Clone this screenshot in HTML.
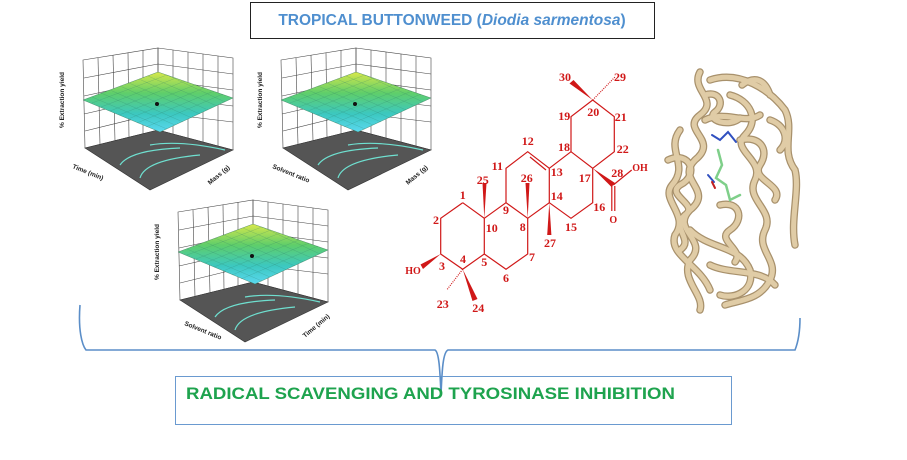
<!DOCTYPE html>
<html><head><meta charset="utf-8"><style>
html,body{margin:0;padding:0;background:#fff;width:907px;height:460px;overflow:hidden}
svg{display:block}
</style></head><body>
<svg width="907" height="460" viewBox="0 0 907 460" xmlns="http://www.w3.org/2000/svg">
<defs>
<linearGradient id="surf" x1="0" y1="0" x2="0" y2="1">
<stop offset="0" stop-color="#d8e84a"/><stop offset="0.35" stop-color="#5fce6a"/><stop offset="0.7" stop-color="#3cc8c0"/><stop offset="1" stop-color="#5ad8f0"/>
</linearGradient>
<g id="plot">
<g stroke="#444" stroke-width="0.6" fill="none">
<polygon points="83,60 158,48 158,130 85,148"/>
<polygon points="158,48 233,58 233,150 158,130"/>
<line x1="98" y1="58" x2="100" y2="145"/><line x1="113" y1="55" x2="115" y2="141"/><line x1="128" y1="53" x2="129" y2="138"/><line x1="143" y1="50" x2="143" y2="134"/>
<line x1="173" y1="50" x2="173" y2="134"/><line x1="188" y1="52" x2="188" y2="138"/><line x1="203" y1="54" x2="203" y2="142"/><line x1="218" y1="56" x2="218" y2="146"/>
<polyline points="84,78 158,64 233,74"/><polyline points="84,96 158,80 233,90"/><polyline points="84,114 158,97 233,106"/><polyline points="85,131 158,113 233,122"/>
</g>
<polygon points="85,148 158,130 233,150 150,190" fill="#555" stroke="#333" stroke-width="0.6"/>
<g stroke="#6fe0d0" stroke-width="1.2" fill="none">
<path d="M120,165 Q130,150 180,148"/><path d="M140,178 Q145,160 200,155"/><path d="M150,145 Q180,140 225,150"/>
</g>
<polygon points="83,100 158,72 233,98 160,132" fill="url(#surf)" stroke="#3a7a5a" stroke-width="0.4"/>
<g stroke="#2f7d6a" stroke-width="0.25" opacity="0.7">
<line x1="92" y1="97" x2="167" y2="129"/><line x1="101" y1="93" x2="175" y2="125"/><line x1="110" y1="90" x2="183" y2="122"/><line x1="120" y1="86" x2="192" y2="118"/><line x1="129" y1="83" x2="200" y2="114"/><line x1="139" y1="79" x2="208" y2="110"/><line x1="148" y1="76" x2="217" y2="106"/><line x1="167" y1="75" x2="225" y2="102"/>
<line x1="92" y1="103" x2="167" y2="75"/><line x1="101" y1="107" x2="176" y2="78"/><line x1="110" y1="111" x2="185" y2="81"/><line x1="119" y1="115" x2="195" y2="85"/><line x1="128" y1="119" x2="204" y2="88"/><line x1="137" y1="123" x2="214" y2="91"/><line x1="146" y1="127" x2="223" y2="94"/>
</g>
<circle cx="157" cy="104" r="2" fill="#111"/>
</g>
<g id="prot">
<path d="M700,72 C690,90 720,100 700,115 C680,130 720,140 695,160 C675,180 715,190 690,210 C670,230 710,240 690,260 C680,280 705,295 700,310"/>
<path d="M680,130 C665,150 690,165 672,185 C660,200 690,215 675,235 C668,255 700,265 710,290"/>
<path d="M730,95 C750,100 760,120 745,135 C730,150 765,160 755,180 C745,200 775,210 765,230 C755,250 780,260 770,280 C760,300 740,300 725,305"/>
<path d="M710,80 C740,70 770,90 785,110 C795,130 780,150 795,170 C800,190 790,220 795,245"/>
<path d="M690,230 C710,250 740,245 750,270 C755,290 735,300 720,295"/>
<path d="M705,120 C725,110 745,125 760,115"/>
<path d="M668,160 C690,150 700,175 680,185 C665,195 700,205 685,215 C670,228 695,240 680,250"/>
<path d="M740,140 C760,135 770,150 760,165 C750,180 785,185 775,200"/>
<path d="M720,205 C740,200 745,220 730,230 C715,240 745,250 735,262"/>
<path d="M705,95 C720,90 725,105 715,112 C705,120 730,128 740,118"/>
<path d="M770,120 C785,125 790,140 780,150"/>
<path d="M710,265 C730,275 760,268 775,285"/>
<path d="M742,85 C755,75 765,80 770,95"/>
</g>
</defs>

<rect x="250.5" y="2.5" width="404" height="36" fill="#fff" stroke="#222" stroke-width="1"/>
<text x="452" y="25" text-anchor="middle" font-family="Liberation Sans, sans-serif" font-size="15.5" font-weight="bold" fill="#4f8fcf">TROPICAL BUTTONWEED (<tspan font-style="italic">Diodia sarmentosa</tspan>)</text>

<use href="#plot"/>
<use href="#plot" transform="translate(198,0)"/>
<use href="#plot" transform="translate(95,152)"/>
<g font-family="Liberation Sans, sans-serif" font-size="6.5" font-weight="bold" fill="#222">
<text transform="translate(64,128) rotate(-90)">% Extraction yield</text>
<text transform="translate(262,128) rotate(-90)">% Extraction yield</text>
<text transform="translate(159,280) rotate(-90)">% Extraction yield</text>
<text transform="translate(72,168) rotate(22)">Time (min)</text>
<text transform="translate(210,185) rotate(-40)">Mass (g)</text>
<text transform="translate(272,168) rotate(22)">Solvent ratio</text>
<text transform="translate(408,185) rotate(-40)">Mass (g)</text>
<text transform="translate(184,325) rotate(22)">Solvent ratio</text>
<text transform="translate(305,338) rotate(-40)">Time (min)</text>
</g>

<g stroke="#d01818" stroke-width="1.2" fill="none">
<polyline points="462.7,202.7 440.7,218.3 440.7,254 462.7,269.3 484.3,254 484.3,218.3 462.7,202.7"/>
<polyline points="484.3,254 506,269.3 527.7,254 527.7,218.3 506,202.7 484.3,218.3"/>
<polyline points="506,202.7 506,168.3 527.7,151.7 549.3,168.3 549.3,202.7 527.7,218.3"/>
<line x1="530" y1="157" x2="546" y2="170"/>
<polyline points="549.3,168.3 571,151.7 592.7,168.3 592.7,202.7 571,218.3 549.3,202.7"/>
<polyline points="571,151.7 571,116.7 592.7,100 614.3,116.7 614.3,151.7 592.7,168.3"/>
<line x1="613.3" y1="185" x2="631.7" y2="170"/>
<line x1="611.8" y1="186" x2="611.8" y2="211"/><line x1="614.8" y1="186" x2="614.8" y2="211"/>
<line x1="462.7" y1="269.3" x2="446.7" y2="290" stroke-dasharray="1,1.2"/>
<line x1="592.7" y1="100" x2="615" y2="77" stroke-dasharray="1,1.2"/>
</g>
<g fill="#d01818">
<polygon points="482.5,183 486.5,183 484.3,218.3"/>
<polygon points="525.5,183 529.5,183 527.7,218.3"/>
<polygon points="547.2,235 551.4,235 549.3,202.7"/>
<polygon points="462.7,269.3 472.5,301 477.5,299"/>
<polygon points="440.7,254 420.5,264.5 423,269"/>
<polygon points="592.7,100 569.5,83.5 573.5,80"/>
<polygon points="592.7,168.3 611.5,187 615,183"/>
</g>
<g font-family="Liberation Serif, serif" font-size="12" font-weight="bold" fill="#d01818" text-anchor="middle">
<text x="462.7" y="199">1</text><text x="436" y="224">2</text><text x="442" y="270">3</text><text x="463" y="263">4</text><text x="484.3" y="266">5</text><text x="506" y="282">6</text><text x="532" y="261">7</text><text x="522.7" y="231">8</text><text x="506" y="214">9</text><text x="491.7" y="232">10</text>
<text x="497.3" y="170">11</text><text x="527.7" y="145">12</text><text x="556.7" y="176">13</text><text x="556.7" y="200">14</text><text x="571" y="231">15</text><text x="599.3" y="211">16</text><text x="584.7" y="182">17</text><text x="564" y="151">18</text><text x="564.3" y="120">19</text><text x="593.3" y="116">20</text>
<text x="620.7" y="121">21</text><text x="622.7" y="153">22</text><text x="442.7" y="308">23</text><text x="478.3" y="312">24</text><text x="482.7" y="184">25</text><text x="526.7" y="182">26</text><text x="550" y="247">27</text><text x="617.3" y="177">28</text><text x="620" y="81">29</text><text x="565" y="81">30</text>
<text x="640" y="171" font-size="10">OH</text><text x="613.3" y="223" font-size="10">O</text><text x="413" y="274" font-size="10">HO</text>
</g>

<g fill="none" stroke-linecap="round">
<use href="#prot" stroke="#a8916c" stroke-width="7.5"/>
<use href="#prot" stroke="#e0cca6" stroke-width="5"/>
<path d="M718,150 L722,165 L716,178 L726,185 L730,200 L740,195" stroke="#7fcf8a" stroke-width="2.5"/>
<path d="M712,135 L720,140 L728,132 L736,142" stroke="#3050c0" stroke-width="2"/>
<path d="M708,175 L714,182" stroke="#3050c0" stroke-width="2"/>
<path d="M712,182 L715,188" stroke="#c02020" stroke-width="2"/>
</g>

<path d="M80,305 C78,330 82,345 86,350 L435,350 C439,352 440,370 441,395 C442,370 443,352 448,350 L795,350 C799,340 800,330 800,318" fill="none" stroke="#5b8ec8" stroke-width="1.6"/>

<rect x="175.5" y="376.5" width="556" height="48" fill="none" stroke="#6a9ad0" stroke-width="1"/>
<path d="M441,376 L441,395" stroke="#5b8ec8" stroke-width="1.6"/>
<text x="186" y="399" font-family="Liberation Sans, sans-serif" font-size="16.5" font-weight="bold" fill="#1ea34e" textLength="489" lengthAdjust="spacingAndGlyphs">RADICAL SCAVENGING AND TYROSINASE INHIBITION</text>
</svg>
</body></html>
